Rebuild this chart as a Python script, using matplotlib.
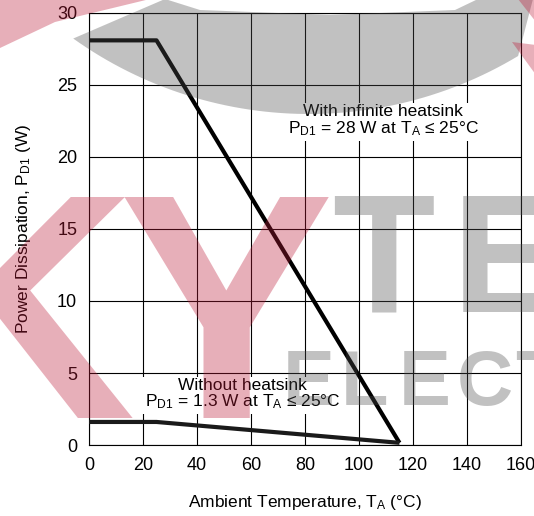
import matplotlib
matplotlib.use("Agg")
import matplotlib.pyplot as plt
from matplotlib.patches import Polygon
import numpy as np

plt.rcParams['font.family'] = ['Liberation Sans', 'DejaVu Sans']
plt.rcParams['mathtext.fontset'] = 'custom'
plt.rcParams['mathtext.rm'] = 'Liberation Sans'
plt.rcParams['mathtext.it'] = 'Liberation Sans:italic'
plt.rcParams['mathtext.bf'] = 'Liberation Sans:bold'

# derating curves
temp_heatsink = [0, 25, 115]
pd_heatsink = [28.1, 28.1, 0.15]
temp_no_heatsink = [0, 25, 115]
pd_no_heatsink = [1.6, 1.6, 0.15]

xticks = [0, 20, 40, 60, 80, 100, 120, 140, 160]
yticks = [0, 5, 10, 15, 20, 25, 30]

W, H = 534, 516
fig = plt.figure(figsize=(W / 100, H / 100), dpi=100)
ax = fig.add_axes([89 / W, 1 - 445 / H, 432 / W, 432 / H])

ax.plot(temp_heatsink, pd_heatsink, color='black', lw=3, solid_capstyle='butt', zorder=3)
ax.plot(temp_no_heatsink, pd_no_heatsink, color='#1a1a1a', lw=3, solid_capstyle='butt', zorder=3)

ax.set_xlim(0, 160)
ax.set_ylim(0, 30)
ax.set_xticks(xticks)
ax.set_yticks(yticks)
ax.tick_params(length=0, labelsize=13, pad=8.5)
ax.grid(True, color='black', lw=0.8)
ax.set_axisbelow(True)
for s in ax.spines.values():
    s.set_linewidth(0.8)

ax.set_xlabel(r'Ambient Temperature, T$_{\mathrm{A}}$ (°C)', fontsize=12.5, labelpad=14)
ax.set_ylabel(r'Power Dissipation, P$_{\mathrm{D1}}$ (W)', fontsize=12.5)
ax.yaxis.set_label_coords(-0.13, 0.5)

box = dict(facecolor='white', edgecolor='none', pad=2)
ax.text(109, 22.5, 'With infinite heatsink\n' + r'P$_{\mathrm{D1}}$ = 28 W at T$_{\mathrm{A}}$ ≤ 25°C',
        ha='center', va='center', fontsize=12.5, linespacing=1.0, bbox=box, zorder=4)
ax.text(57, 3.5, 'Without heatsink\n' + r'P$_{\mathrm{D1}}$ = 1.3 W at T$_{\mathrm{A}}$ ≤ 25°C',
        ha='center', va='center', fontsize=12.5, linespacing=1.0, bbox=box, zorder=4)

# watermark (drawn over the chart, semi transparent)
pink = (0.74, 0.10, 0.22)
grey = (0.31, 0.31, 0.31)
wa = 0.35

def fx(x):
    return x / W

def fy(y):
    return 1 - y / H

def px(pts):
    return [(fx(x), fy(y)) for x, y in pts]

phi = np.radians(np.linspace(-35.5, 31, 60))
lower = [(309 + 406 * np.sin(p), -292 + 406 * np.cos(p)) for p in phi]
upper = [(533, -1), (478, -1), (455, 10), (330, 15), (200, 10), (165, -1)]
fig.patches.append(Polygon(px(lower + upper), closed=True, transform=fig.transFigure,
                           facecolor=grey, edgecolor='none', alpha=wa, zorder=5))
fig.patches.append(Polygon(px([(0, -1), (150, -1), (55, 22), (0, 48)]), closed=True,
                           transform=fig.transFigure, facecolor=pink, edgecolor='none',
                           alpha=wa, zorder=5))
fig.patches.append(Polygon(px([(536, 45), (536, 75), (512, 42)]), closed=True,
                           transform=fig.transFigure, facecolor=pink, edgecolor='none',
                           alpha=wa, zorder=5))
fig.patches.append(Polygon(px([(518, -1), (536, -1), (536, 22)]), closed=True,
                           transform=fig.transFigure, facecolor=pink, edgecolor='none',
                           alpha=wa, zorder=5))

wm = dict(fontweight='bold', alpha=wa, zorder=6, va='baseline')
fig.text(fx(135), fy(418), 'K', ha='right', fontsize=232, color=pink, **wm)
fig.text(fx(226), fy(418), 'Y', ha='center', fontsize=232, color=pink, **wm)
fig.text(fx(383), fy(312), 'T', ha='center', fontsize=121, color=grey, **wm)
fig.text(fx(452), fy(312), 'E', ha='left', fontsize=121, color=grey, **wm)
for i, ch in enumerate('ELECTRONICS'):
    fig.text(fx(283 + 58 * i), fy(405), ch, ha='left', fontsize=56, color=grey, **wm)

fig.savefig('out.png', dpi=100)
